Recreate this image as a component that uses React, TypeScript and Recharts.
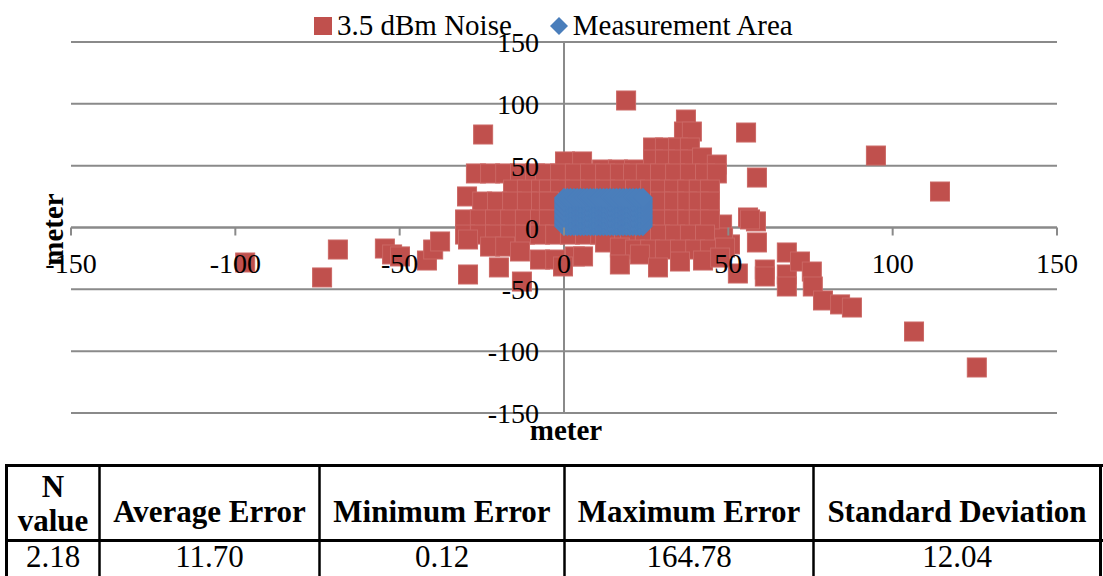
import React from 'react';
import { ScatterChart, Scatter, XAxis, YAxis, CartesianGrid, ReferenceLine, Legend } from 'recharts';

// ---------- data ----------
const seriesNames = ['3.5 dBm Noise', 'Measurement Area'];
const seriesColors = ['#C0504D', '#4A7EBB'];
const xAxisTitle = 'meter';
const yAxisTitle = 'meter';
const xTicks = [-150, -100, -50, 0, 50, 100, 150];
const yTicks = [-150, -100, -50, 0, 50, 100, 150];
const xDomain: [number, number] = [-150, 150];
const yDomain: [number, number] = [-150, 150];

// 3.5 dBm noise estimates (x, y in meters)
const noiseX = [
  18.9, -24.6, 55.4, 58.7, 94.9, 114.4, 106.5, 125.6,
  -97.0, -73.6, -68.8, -54.5, -52.3, -49.9, -41.7, -39.8, -37.7, -29.2, -19.8, -12.8,
  56.0, 58.4, 56.6, 58.7, 50.5, 52.9, 61.1, 61.1, 67.8, 67.8, 67.8, 71.8, 75.4, 75.7, 78.8, 84.0, 87.6, 48.1, 48.4,
  37.1, 36.5, 38.9, 27.1, 30.7, 34.7, 38.3,
  0.3, 5.5, 27.1, 30.7, 34.7, 38.3, 42.0, 46.5, 11.6, 16.4, 21.3,
  -26.8, -22.5, -17.9, -13.4, -8.8, -5.8, -1.2, 3.3, 7.9, 12.5, 17.0, 21.0, 24.9, 29.2, 33.8, 38.3, 42.9, 46.5,
  -29.5, -15.5, -11.3, -7.0, -4.6, -1.2, 3.3, 7.9, 12.5, 17.0, 21.6, 26.2, 29.2, 33.5, 37.5, 41.0, 44.4,
  -24.9, -20.4, -15.8, -11.3, -7.0, -4.6, 29.2, 33.5, 37.5, 41.0, 44.4,
  -30.1, -25.6, -21.0, -16.4, -11.9, -7.3, -4.6, 29.2, 33.5, 37.5, 41.0, 44.4,
  -30.1, -25.6, -21.0, -16.4, -11.9, -7.3, -2.7, 1.8, 6.4, 11.0, 15.5, 20.1, 24.6, 29.2, 33.8, 38.3, 42.9,
  -29.2, -22.5, -17.9, -13.4, -7.3, -2.7, 3.3, 5.8, 12.5, 17.0, 21.6, 26.2, 30.7, 35.3, 39.9, 44.4, 49.0,
  -0.3, 17.0, 23.1, 28.6, 35.3, 42.3, 47.5,
];
const noiseY = [
  102.7, 75.2, 76.8, 40.4, 58.2, 29.1, -84.1, -113.2,
  -28.3, -40.4, -17.8, -17.0, -21.8, -23.4, -26.7, -17.8, -11.3, -38.0, -32.3, -43.7,
  8.1, 4.9, 6.5, -12.1, -13.7, -37.2, -34.0, -39.6, -20.2, -38.0, -47.7, -27.5, -35.6, -47.7, -59.0, -62.2, -64.7, 2.4, -8.1,
  87.3, 77.6, 77.6, 64.7, 64.7, 64.7, 64.7,
  53.4, 53.4, 55.0, 55.0, 55.0, 55.0, 56.6, 50.9, 46.9, 46.9, 46.9,
  43.7, 43.7, 43.7, 43.7, 43.7, 43.7, 43.7, 43.7, 43.7, 43.7, 43.7, 43.7, 43.7, 43.7, 43.7, 43.7, 43.7, 43.7,
  25.1, 30.7, 30.7, 30.7, 30.7, 30.7, 30.7, 30.7, 30.7, 30.7, 30.7, 30.7, 30.7, 30.7, 30.7, 30.7, 30.7,
  21.0, 21.0, 21.0, 21.0, 21.0, 21.0, 21.0, 21.0, 21.0, 21.0, 21.0,
  6.5, 6.5, 6.5, 6.5, 6.5, 6.5, 6.5, 6.5, 6.5, 6.5, 6.5, 6.5,
  -5.7, -5.7, -5.7, -5.7, -5.7, -5.7, -5.7, -5.7, -5.7, -5.7, -5.7, -5.7, -5.7, -5.7, -5.7, -5.7, -5.7,
  -9.7, -15.4, -15.4, -19.4, -25.9, -25.9, -23.4, -23.4, -12.1, -16.2, -17.8, -17.8, -17.8, -17.8, -17.8, -17.8, -16.2,
  -31.5, -29.9, -21.8, -32.3, -27.5, -26.7, -24.3,
];

// Measurement area grid (meters)
const areaX = [0, 1, 2, 3, 4, 5, 6, 7, 8, 9, 10, 11, 12, 13, 14, 15, 16, 17, 18, 19, 20, 21, 22, 23, 24];
const areaY = [1, 2, 3, 4, 5, 6, 7, 8, 9, 10, 11, 12, 13, 14, 15, 16, 17, 18, 19, 20, 21, 22, 23, 24];

// Table
const tableHeaders = [['N', 'value'], ['Average Error'], ['Minimum Error'], ['Maximum Error'], ['Standard Deviation']];
const tableValues = ['2.18', '11.70', '0.12', '164.78', '12.04'];

const noiseData = noiseX.map((x, i) => ({ x, y: noiseY[i] }));
const areaData = areaY.flatMap((y) => areaX.map((x) => ({ x, y })));

// ---------- layout ----------
const FONT = '"Liberation Serif", "Times New Roman", serif';
const GRID = '#8a8a8a';
const W = 1103;
const H = 456;
const AXIS_X_H = 1;
const AXIS_Y_W = 1;
const M = { top: 42, right: 46, bottom: 43 - AXIS_X_H, left: 71 - AXIS_Y_W };
const plotLeft = M.left + AXIS_Y_W;
const plotW = W - plotLeft - M.right;
const plotH = H - M.top - M.bottom - AXIS_X_H;
const zeroX = plotLeft + (plotW * (0 - xDomain[0])) / (xDomain[1] - xDomain[0]);
const zeroY = M.top + (plotH * (yDomain[1] - 0)) / (yDomain[1] - yDomain[0]);

const XTick = (props: any) => {
  const { x, payload } = props;
  return (
    <g>
      <line x1={x} x2={x} y1={zeroY} y2={zeroY + 8} stroke={GRID} strokeWidth={2} />
      <text x={x} y={zeroY + 45} textAnchor="middle" fontSize={28} fontFamily={FONT} fill="#000">
        {payload.value}
      </text>
    </g>
  );
};

const YTick = (props: any) => {
  const { y, payload } = props;
  return (
    <text x={zeroX - 25} y={y + 10} textAnchor="end" fontSize={28} fontFamily={FONT} fill="#000">
      {payload.value}
    </text>
  );
};

const XTitle = () => (
  <text x={zeroX + 2} y={440} textAnchor="middle" fontSize={29} fontWeight="bold" fontFamily={FONT} fill="#000">
    {xAxisTitle}
  </text>
);
const YTitle = () => (
  <text
    x={63}
    y={zeroY + 2}
    textAnchor="middle"
    fontSize={29}
    fontWeight="bold"
    fontFamily={FONT}
    fill="#000"
    transform={`rotate(-90, 63, ${zeroY + 2})`}
  >
    {yAxisTitle}
  </text>
);

const NoiseShape = (p: any) => (
  <rect x={p.cx - 9.5} y={p.cy - 9.5} width={19} height={19} fill={seriesColors[0]} stroke="#CB6764" strokeWidth={1} />
);
const AreaShape = (p: any) => (
  <polygon
    points={`${p.cx},${p.cy - 10} ${p.cx + 10},${p.cy} ${p.cx},${p.cy + 10} ${p.cx - 10},${p.cy}`}
    fill={seriesColors[1]}
  />
);

const LegendContent = (props: any) => {
  const payload = props.payload || [];
  return (
    <div
      style={{
        position: 'absolute',
        left: 314,
        top: 11,
        height: 29,
        display: 'flex',
        alignItems: 'center',
        fontFamily: FONT,
        fontSize: 29,
        lineHeight: '29px',
        whiteSpace: 'nowrap',
        color: '#000',
      }}
    >
      {payload.map((entry: any, i: number) => (
        <div key={i} style={{ display: 'flex', alignItems: 'center', marginRight: i === 0 ? 38 : 0 }}>
          {i === 0 ? (
            <svg width={18} height={18} style={{ marginRight: 5 }}>
              <rect width={18} height={18} fill={entry.color} />
            </svg>
          ) : (
            <svg width={18} height={18} style={{ marginRight: 5 }}>
              <polygon points="9,0 18,9 9,18 0,9" fill={entry.color} />
            </svg>
          )}
          <span>{entry.value}</span>
        </div>
      ))}
    </div>
  );
};

const colEdges = [6.5, 99.5, 319.5, 564.5, 813.5, 1100.5];

export default function App() {
  return (
    <div style={{ position: 'fixed', left: 0, top: 0, width: 1103, height: 576, background: '#fff', overflow: 'hidden' }}>
      <div style={{ position: 'absolute', left: 0, top: 0 }}>
        <ScatterChart width={W} height={H} margin={M}>
          <CartesianGrid horizontal vertical={false} stroke={GRID} strokeWidth={2} />
          <ReferenceLine x={0} stroke={GRID} strokeWidth={2} />
          <ReferenceLine y={0} stroke={GRID} strokeWidth={2} />
          <Scatter name={seriesNames[0]} data={noiseData} fill={seriesColors[0]} shape={NoiseShape} isAnimationActive={false} />
          <Scatter name={seriesNames[1]} data={areaData} fill={seriesColors[1]} shape={AreaShape} isAnimationActive={false} />
          <XAxis
            type="number"
            dataKey="x"
            domain={xDomain}
            ticks={xTicks}
            interval={0}
            height={AXIS_X_H}
            axisLine={false}
            tickLine={false}
            tick={XTick}
            label={{ content: XTitle }}
          />
          <YAxis
            type="number"
            dataKey="y"
            domain={yDomain}
            ticks={yTicks}
            interval={0}
            width={AXIS_Y_W}
            axisLine={false}
            tickLine={false}
            tick={YTick}
            label={{ content: YTitle }}
          />
          <Legend content={LegendContent} wrapperStyle={{ top: 0, left: 0, width: W, height: 0 }} />
        </ScatterChart>
      </div>
      <svg style={{ position: 'absolute', left: 0, top: 0, pointerEvents: 'none' }} width={1103} height={576}>
        <line x1={5} x2={1103} y1={465.5} y2={465.5} stroke="#000" strokeWidth={3} />
        <line x1={5} x2={1103} y1={540.5} y2={540.5} stroke="#000" strokeWidth={3} />
        {colEdges.map((cx, i) => (
          <line key={i} x1={cx} x2={cx} y1={464} y2={576} stroke="#000" strokeWidth={i === 0 || i === colEdges.length - 1 ? 3 : 2.5} />
        ))}
        {tableHeaders.map((lines, i) => {
          const cx = (colEdges[i] + colEdges[i + 1]) / 2;
          return lines.length === 1 ? (
            <text key={i} x={cx} y={522} textAnchor="middle" fontSize={31} fontWeight="bold" fontFamily={FONT} fill="#000">
              {lines[0]}
            </text>
          ) : (
            <text key={i} textAnchor="middle" fontSize={31} fontWeight="bold" fontFamily={FONT} fill="#000">
              <tspan x={cx} y={497}>{lines[0]}</tspan>
              <tspan x={cx} y={531}>{lines[1]}</tspan>
            </text>
          );
        })}
        {tableValues.map((v, i) => (
          <text key={i} x={(colEdges[i] + colEdges[i + 1]) / 2} y={567} textAnchor="middle" fontSize={31} fontFamily={FONT} fill="#000">
            {v}
          </text>
        ))}
      </svg>
    </div>
  );
}
